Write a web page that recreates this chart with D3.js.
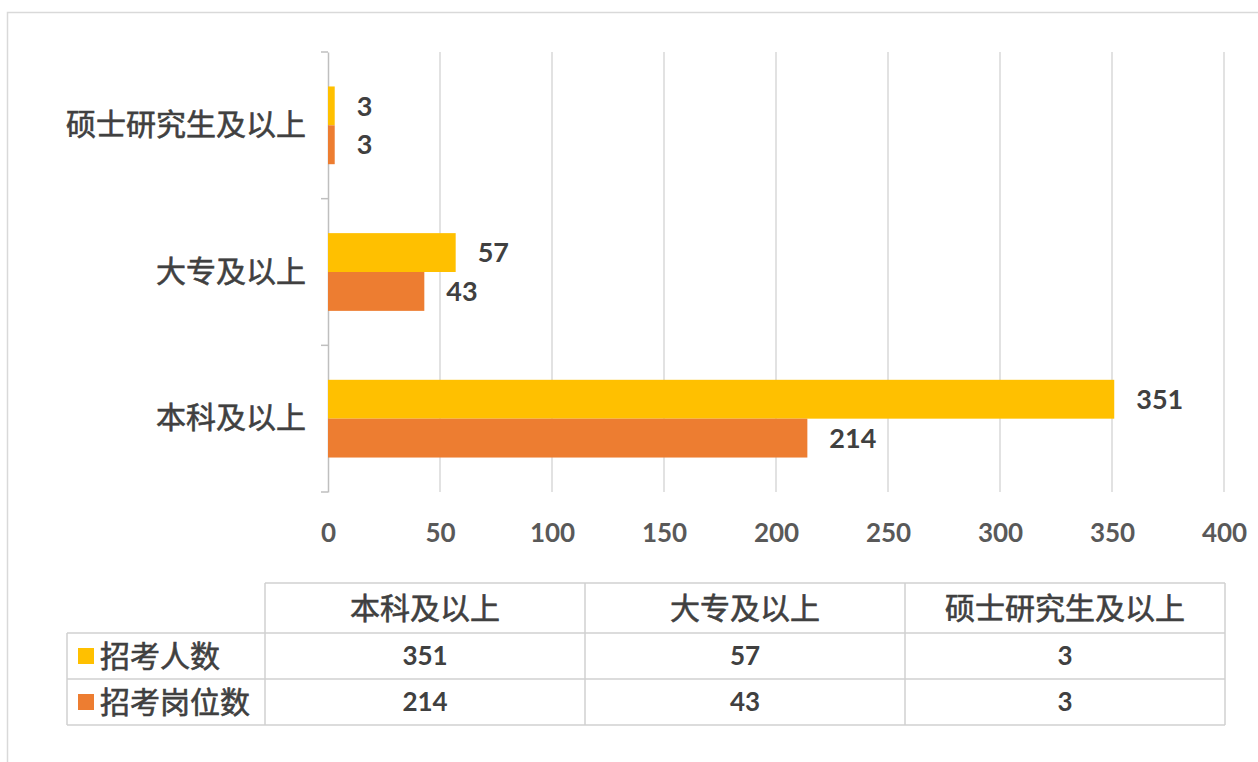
<!DOCTYPE html>
<html>
<head>
<meta charset="utf-8">
<script src="https://cdn.jsdelivr.net/npm/d3@7/dist/d3.min.js"></script>
<style>
  html, body { margin: 0; padding: 0; background: #fff; }
  svg { display: block; }
</style>
</head>
<body>
<div id="chart"></div>
<script>
const categories = ['本科及以上', '大专及以上', '硕士研究生及以上'];
const seriesNames = ['招考人数', '招考岗位数'];
const applicants = [351, 57, 3];
const positions = [214, 43, 3];
const xTicks = [0, 50, 100, 150, 200, 250, 300, 350, 400];

const colors = ['#FFC000', '#ED7D31'];
const cjk = "'Noto Sans CJK SC', 'Microsoft YaHei', sans-serif";
const num = "Lato, 'Open Sans', sans-serif";

const W = 1258, H = 762;
const svg = d3.select('#chart').append('svg').attr('width', W).attr('height', H);

// outer frame
svg.append('rect')
  .attr('x', 7.5).attr('y', 12.5).attr('width', W + 10).attr('height', H + 10)
  .attr('fill', '#fff').attr('stroke', '#d9d9d9').attr('stroke-width', 1.5);

const plot = { left: 328, right: 1224, top: 52, bottom: 492 };

const x = d3.scaleLinear().domain([0, 400]).range([plot.left, plot.right]);
// Excel draws the first category at the bottom
const y0 = d3.scaleBand().domain(categories.slice().reverse())
  .range([plot.top, plot.bottom]).paddingInner(0.47).paddingOuter(0.235);
const y1 = d3.scaleBand().domain([0, 1]).range([0, y0.bandwidth()]);

// grid
svg.append('g').selectAll('line')
  .data(xTicks.filter(d => d > 0)).enter().append('line')
  .attr('x1', d => x(d)).attr('x2', d => x(d))
  .attr('y1', plot.top).attr('y2', plot.bottom)
  .attr('stroke', '#d9d9d9').attr('stroke-width', 1.5);

// x tick labels
const xAxis = svg.append('g').attr('transform', `translate(0,${plot.bottom})`)
  .call(d3.axisBottom(x).tickValues(xTicks).tickSize(0).tickPadding(32));
xAxis.select('.domain').remove();
xAxis.selectAll('text')
  .attr('fill', '#595959').attr('font-family', num).attr('font-weight', 'bold')
  .attr('font-size', '26px');

// category axis
const stepY = (plot.bottom - plot.top) / categories.length;
const yAxis = svg.append('g').attr('transform', `translate(${plot.left},0)`)
  .call(d3.axisLeft(y0).tickSize(0).tickPadding(22));
yAxis.select('.domain').attr('stroke', '#bfbfbf').attr('stroke-width', 1.5);
yAxis.selectAll('text')
  .attr('fill', '#404040').attr('stroke', '#404040').attr('stroke-width', 0.6)
  .attr('font-family', cjk).attr('font-size', '30px');
svg.append('g').selectAll('line')
  .data(d3.range(categories.length + 1)).enter().append('line')
  .attr('x1', plot.left - 7).attr('x2', plot.left)
  .attr('y1', i => plot.top + i * stepY).attr('y2', i => plot.top + i * stepY)
  .attr('stroke', '#bfbfbf').attr('stroke-width', 1.5);

// bars
const rows = categories.map((c, i) => ({ cat: c, vals: [applicants[i], positions[i]] }));
const groups = svg.append('g').selectAll('g')
  .data(rows).enter().append('g')
  .attr('transform', d => `translate(0,${y0(d.cat)})`);

groups.selectAll('rect')
  .data(d => d.vals.map((v, s) => ({ v, s }))).enter().append('rect')
  .attr('x', x(0))
  .attr('y', d => y1(d.s))
  .attr('width', d => x(d.v) - x(0))
  .attr('height', y1.bandwidth())
  .attr('fill', d => colors[d.s]);

groups.selectAll('text')
  .data(d => d.vals.map((v, s) => ({ v, s }))).enter().append('text')
  .attr('x', d => x(d.v) + 22)
  .attr('y', d => y1(d.s) + y1.bandwidth() / 2)
  .attr('dy', '0.36em')
  .attr('fill', '#404040').attr('font-family', num).attr('font-weight', 'bold')
  .attr('font-size', '27px')
  .text(d => d.v);

// data table
const tbl = { left: 67, colStart: 265, right: 1225, top: 583, rows: [583, 633, 679, 725] };
const cx = d3.scaleBand().domain(categories).range([tbl.colStart, tbl.right]);
const tg = svg.append('g');
const gridColor = '#d0d0d0';

// horizontal rules
tg.append('line').attr('x1', tbl.colStart).attr('x2', tbl.right)
  .attr('y1', tbl.rows[0]).attr('y2', tbl.rows[0]).attr('stroke', gridColor).attr('stroke-width', 1.5);
tbl.rows.slice(1).forEach(yy => {
  tg.append('line').attr('x1', tbl.left).attr('x2', tbl.right)
    .attr('y1', yy).attr('y2', yy).attr('stroke', gridColor).attr('stroke-width', 1.5);
});
// vertical rules
tg.append('line').attr('x1', tbl.left).attr('x2', tbl.left)
  .attr('y1', tbl.rows[1]).attr('y2', tbl.rows[3]).attr('stroke', gridColor).attr('stroke-width', 1.5);
categories.forEach(c => {
  tg.append('line').attr('x1', cx(c)).attr('x2', cx(c))
    .attr('y1', tbl.rows[0]).attr('y2', tbl.rows[3]).attr('stroke', gridColor).attr('stroke-width', 1.5);
});
tg.append('line').attr('x1', tbl.right).attr('x2', tbl.right)
  .attr('y1', tbl.rows[0]).attr('y2', tbl.rows[3]).attr('stroke', gridColor).attr('stroke-width', 1.5);

// header
tg.selectAll('.hdr').data(categories).enter().append('text')
  .attr('x', d => cx(d) + cx.bandwidth() / 2)
  .attr('y', (tbl.rows[0] + tbl.rows[1]) / 2).attr('dy', '0.36em')
  .attr('text-anchor', 'middle')
  .attr('fill', '#404040').attr('stroke', '#404040').attr('stroke-width', 0.6)
  .attr('font-family', cjk).attr('font-size', '30px')
  .text(d => d);

// series rows
[applicants, positions].forEach((vals, s) => {
  const mid = (tbl.rows[s + 1] + tbl.rows[s + 2]) / 2;
  tg.append('rect').attr('x', 78).attr('y', mid - 8).attr('width', 16).attr('height', 16)
    .attr('fill', colors[s]);
  tg.append('text').attr('x', 100).attr('y', mid).attr('dy', '0.36em')
    .attr('fill', '#404040').attr('stroke', '#404040').attr('stroke-width', 0.6)
    .attr('font-family', cjk).attr('font-size', '30px')
    .text(seriesNames[s]);
  tg.selectAll(`.v${s}`).data(vals).enter().append('text')
    .attr('x', (d, i) => cx(categories[i]) + cx.bandwidth() / 2)
    .attr('y', mid).attr('dy', '0.36em')
    .attr('text-anchor', 'middle')
    .attr('fill', '#404040').attr('font-family', num).attr('font-weight', 'bold')
    .attr('font-size', '26px')
    .text(d => d);
});
</script>
</body>
</html>
